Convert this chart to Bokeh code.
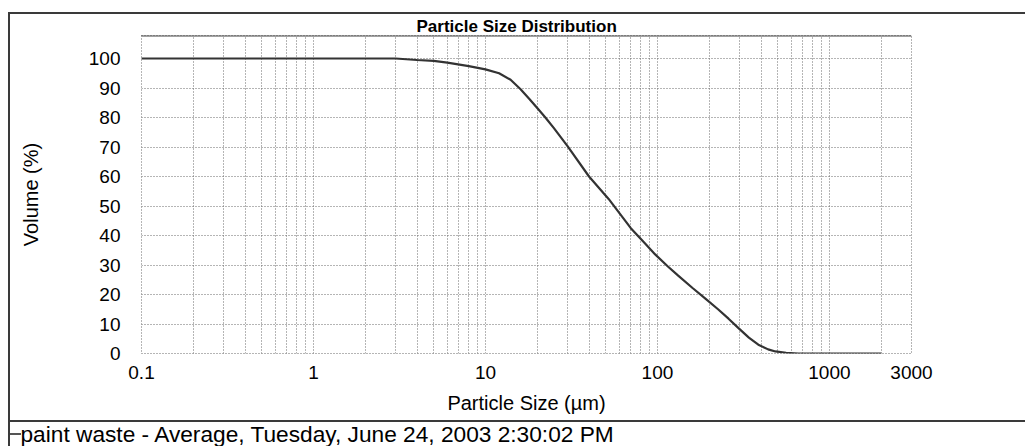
from bokeh.plotting import figure
from bokeh.models import FixedTicker, Range1d, Span, Title
from bokeh.embed import file_html
from bokeh.resources import INLINE

# ---- data ----
sizes = [0.1, 0.5, 1, 2, 3, 4, 5, 6, 8, 10, 12, 14, 16, 18, 20, 22.3, 25, 30, 40, 52,
         70, 85, 97, 115, 132, 160, 190, 225, 259, 296, 340, 386, 440, 485, 560, 660,
         1000, 2000]
volume = [100, 100, 100, 100, 100, 99.5, 99.2, 98.6, 97.4, 96.3, 95.0, 92.8, 89.6, 86.3,
          83.2, 80, 76.4, 70.3, 60, 52.4, 42.5, 37.2, 33.6, 29.5, 26.4, 22.2, 18.6, 15,
          11.8, 8.6, 5.4, 3.0, 1.4, 0.7, 0.25, 0, 0, 0]
x_major_ticks = [0.1, 1, 10, 100, 1000, 3000]
x_minor_ticks = [m * 10 ** e for e in range(-1, 3) for m in range(2, 10)] + [2000]
y_ticks = list(range(0, 101, 10))
title_text = "Particle Size Distribution"
x_label = "Particle Size (µm)"
y_label = "Volume (%)"
series_name = "paint waste - Average, Tuesday, June 24, 2003 2:30:02 PM"

FONT = "Liberation Sans"
FRAME = "#3a3a3a"
GRID = "#6a6a6a"
Y_TOP = 107.8

p = figure(width=1017, height=434, x_axis_type="log",
           x_range=Range1d(0.1, 3000), y_range=Range1d(0, Y_TOP),
           output_backend="svg", toolbar_location=None,
           min_border_left=131, min_border_right=116,
           min_border_top=17, min_border_bottom=93)
p.margin = (12, 0, 0, 8)
# outer frame, separator above the legend row and the legend's line sample
p.styles = {
    "border-left": "2px solid #3a3a3a",
    "border-top": "2px solid #3a3a3a",
    "background": ("linear-gradient(#3a3a3a,#3a3a3a) 0px 406px / 100% 2px no-repeat, "
                   "linear-gradient(#555555,#555555) 0px 419px / 11px 2px no-repeat, white"),
}
p.background_fill_color = "white"
p.border_fill_alpha = 0

p.title.text = title_text
p.title.align = "left"
p.title.offset = 275
p.title.text_font = FONT
p.title.text_font_size = "17px"
p.title.text_font_style = "bold"
p.title.text_color = "black"
p.title.standoff = 0

curve = p.line(sizes, volume, line_color="#333333", line_width=2.2)

p.xaxis.ticker = FixedTicker(ticks=x_major_ticks, minor_ticks=x_minor_ticks)
p.xaxis.major_label_overrides = {0.1: "0.1", 1: "1", 10: "10", 100: "100",
                                 1000: "1000", 3000: "3000"}
p.yaxis.ticker = FixedTicker(ticks=y_ticks)

for ax in (p.xaxis, p.yaxis):
    ax.axis_line_color = None
    ax.major_tick_line_color = None
    ax.minor_tick_line_color = None
    ax.major_label_text_font = FONT
    ax.major_label_text_font_size = "19px"
    ax.major_label_text_color = "black"
    ax.axis_label_text_font = FONT
    ax.axis_label_text_font_size = "20px"
    ax.axis_label_text_font_style = "normal"
    ax.axis_label_text_color = "black"

p.xaxis.axis_label = x_label
p.yaxis.axis_label = y_label
p.xaxis.major_label_standoff = 6
p.xaxis.axis_label_standoff = 10
p.yaxis.major_label_standoff = 15
p.yaxis.axis_label_standoff = 44

p.xgrid.grid_line_color = GRID
p.xgrid.grid_line_dash = "1 2"
p.xgrid.minor_grid_line_color = GRID
p.xgrid.minor_grid_line_dash = "1 2"
p.ygrid.grid_line_color = GRID
p.ygrid.grid_line_dash = "1 2"

p.outline_line_color = GRID
p.outline_line_dash = "1 2"
p.add_layout(Span(location=Y_TOP, dimension="width", line_color="#444444", line_width=2))

legend_title = Title(text=series_name, align="left", offset=-121, standoff=4,
                     text_font=FONT, text_font_size="22.7px", text_font_style="normal",
                     text_color="black")
p.add_layout(legend_title, "below")

open("out.html", "w").write(file_html(p, INLINE))
